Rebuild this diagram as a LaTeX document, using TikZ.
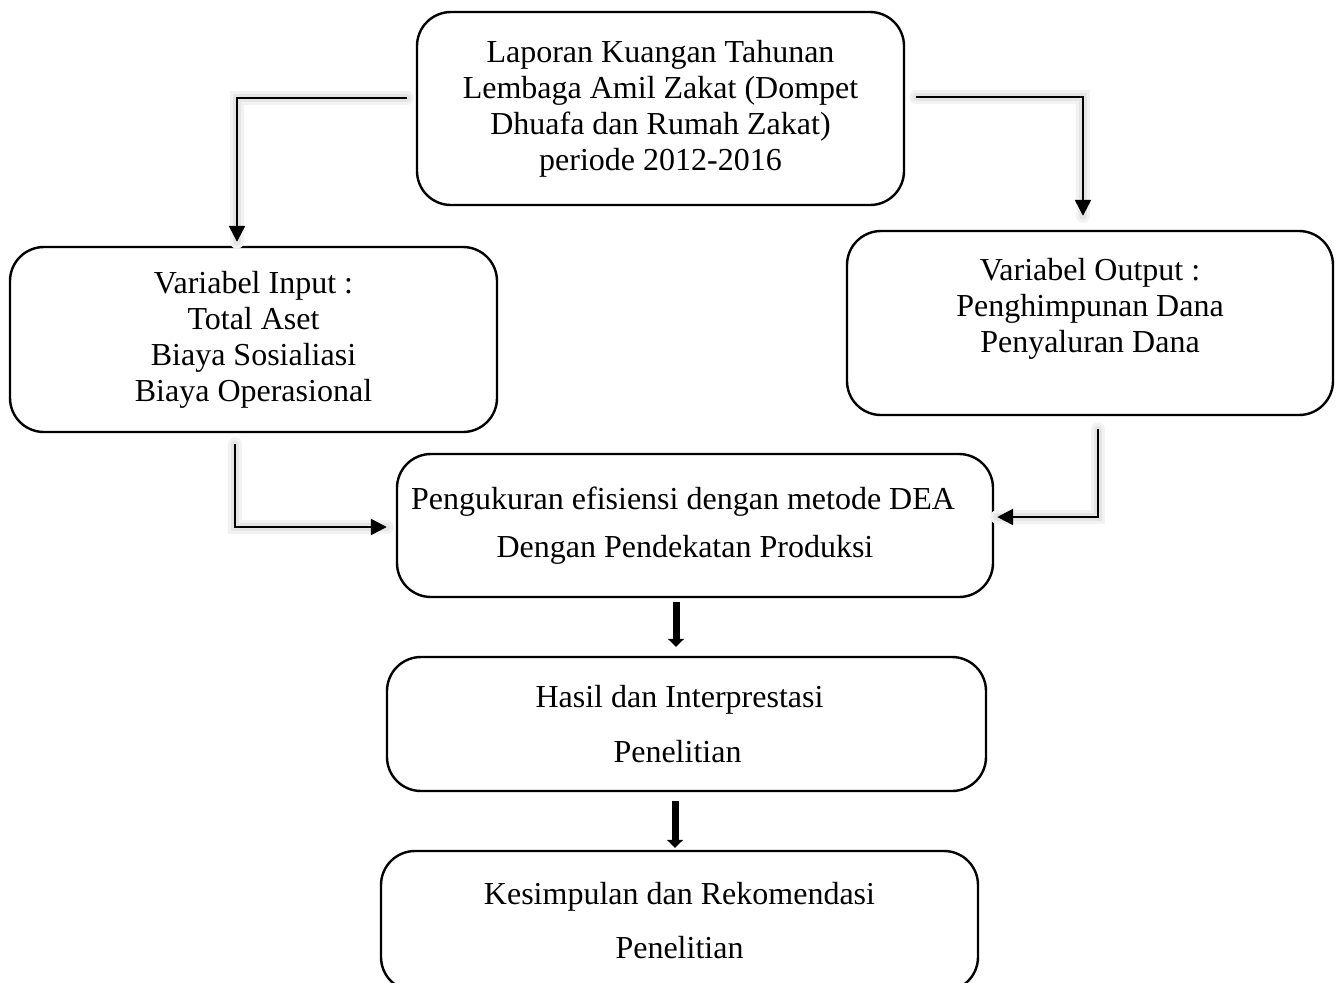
\documentclass[tikz,border=0pt]{standalone}
\usepackage{fontspec}
\setmainfont{Liberation Serif}
\usetikzlibrary{arrows.meta}
\tikzset{
  box/.style={draw,line width=1.2pt,rounded corners=17pt,align=center,
    inner sep=0pt,font=\fontsize{16pt}{18pt}\selectfont},
  link/.style={line width=1.2pt,-{Triangle[width=8pt,length=8pt]},
    preaction={draw=black!5,line width=7pt,-,line cap=round},
    preaction={draw=black!10,line width=4pt,-,line cap=round}},
  fat/.style={line width=3.5pt,-{Triangle[width=8pt,length=4pt]}}
}
\begin{document}
\begin{tikzpicture}[x=0.5pt,y=-0.5pt]
\useasboundingbox (0,0) rectangle (1341,982);
\node[box,minimum width=243.5pt,minimum height=96.5pt] (lap) at (660.5,108.5)
  {Laporan Kuangan Tahunan\\Lembaga Amil Zakat (Dompet\\Dhuafa dan Rumah Zakat)\\periode 2012-2016};
\node[box,minimum width=243.5pt,minimum height=92.5pt] (inp) at (253.5,339.5)
  {Variabel Input :\\Total Aset\\Biaya Sosialiasi\\Biaya Operasional};
\node[box,minimum width=243pt,minimum height=92pt] (outp) at (1090,323)
  {Variabel Output :\\Penghimpunan Dana\\Penyaluran Dana\\\mbox{}};
\node[box,minimum width=298pt,minimum height=71.5pt] (dea) at (695,525.5)
  {Pengukuran efisiensi dengan metode DEA\hspace*{12pt}\\[6pt]Dengan Pendekatan Produksi\hspace*{10pt}};
\node[box,minimum width=299.5pt,minimum height=67pt] (has) at (686.5,724)
  {Hasil dan Interprestasi\hspace*{7pt}\\[9.5pt]Penelitian\hspace*{9pt}};
\node[box,minimum width=298.5pt,minimum height=70pt] (kes) at (679.5,921)
  {Kesimpulan dan Rekomendasi\\[9pt]Penelitian};
\draw[link] ([shift={(-9,-10.5)}]lap.west) -| ([shift={(-16.5,-4)}]inp.north);
\draw[link] ([shift={(11,-11.5)}]lap.east) -| ([shift={(-7,-14)}]outp.north);
\draw[link] ([shift={(-18.5,11)}]inp.south) |- ([shift={(-9,1.5)}]dea.west);
\draw[link] ([shift={(8,13)}]outp.south) |- ([shift={(3,-8.5)}]dea.east);
\draw[fat] ([shift={(-19,4)}]dea.south) -- ([shift={(-10.5,-9)}]has.north);
\draw[fat] ([shift={(-11.5,9)}]has.south) -- ([shift={(-4.5,-2)}]kes.north);
\end{tikzpicture}
\end{document}
